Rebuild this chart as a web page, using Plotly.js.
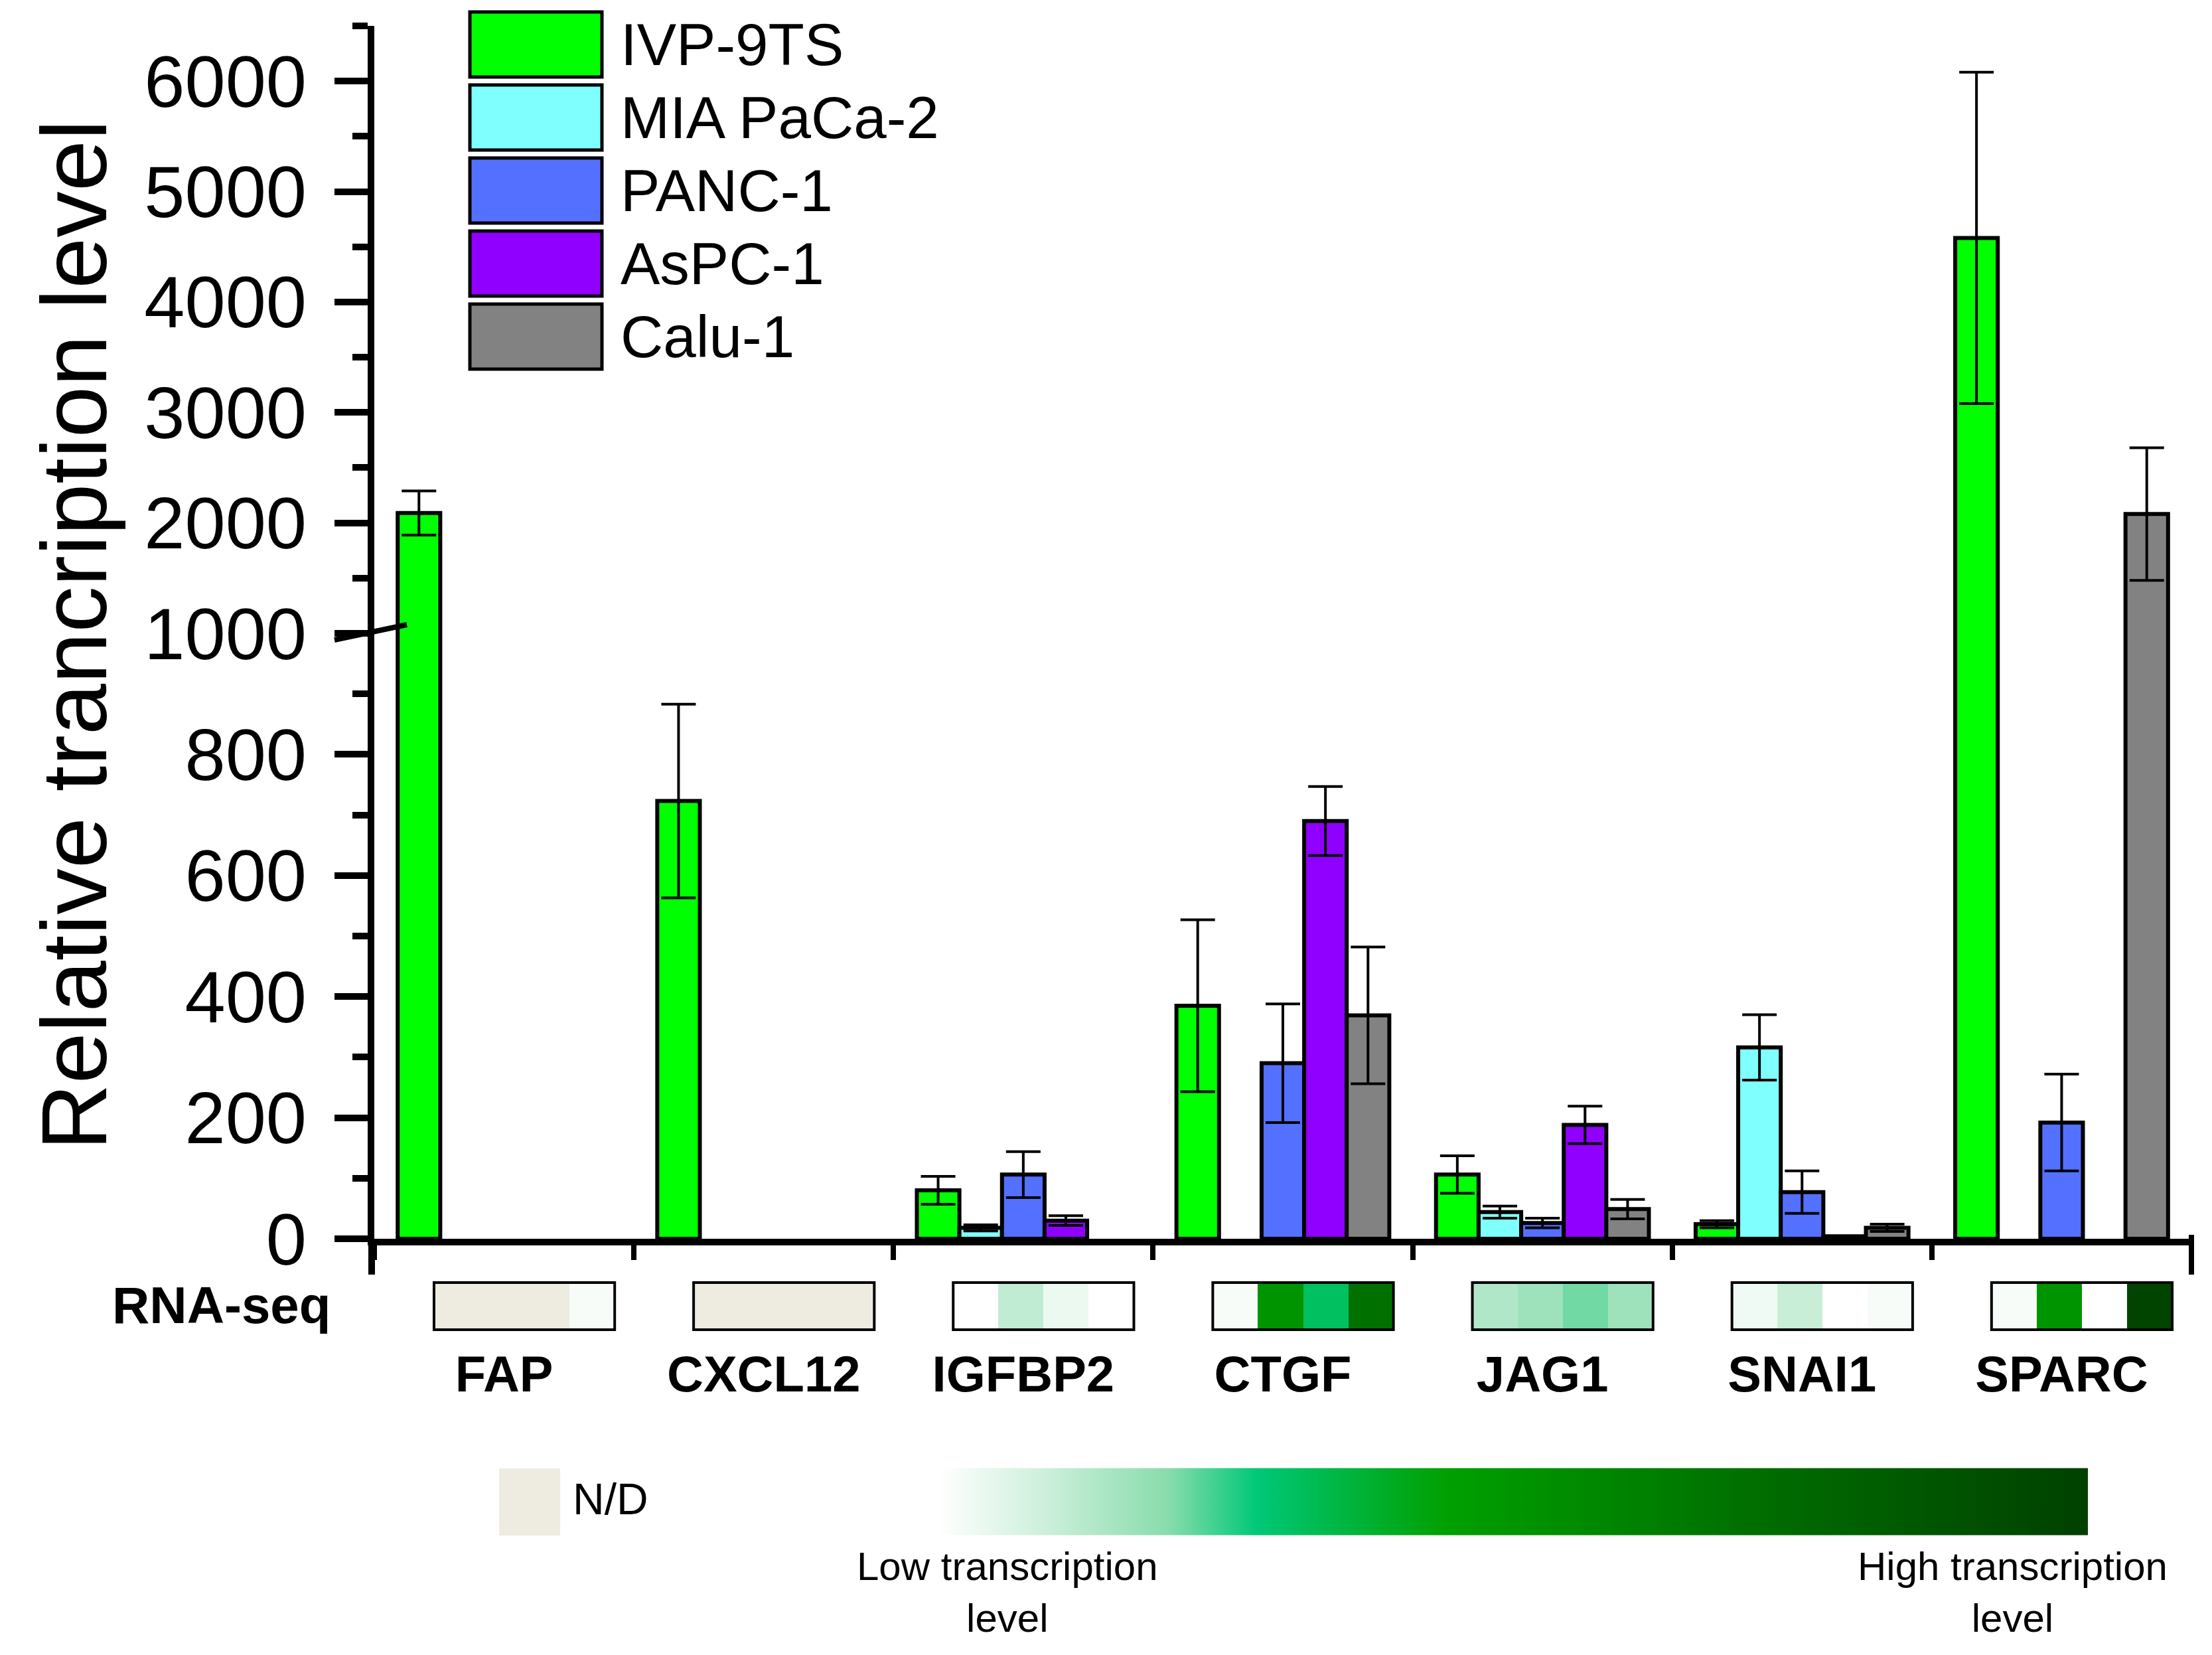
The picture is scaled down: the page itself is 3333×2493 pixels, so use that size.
<!DOCTYPE html>
<html>
<head>
<meta charset="utf-8">
<script src="https://cdn.plot.ly/plotly-3.0.1.min.js"></script>
<style>
  html, body { margin: 0; padding: 0; background: #fff; }
  #chart { width: 3333px; height: 2493px; }
</style>
</head>
<body>
<div id="chart"></div>
<script>
// genes on the x axis
const genes = ['FAP', 'CXCL12', 'IGFBP2', 'CTGF', 'JAG1', 'SNAI1', 'SPARC'];
const cellLines = ['IVP-9TS', 'MIA PaCa-2', 'PANC-1', 'AsPC-1', 'Calu-1'];
const barColors = ['#00ff00', '#80ffff', '#5470ff', '#9000ff', '#828282'];

// relative transcription level (mean) and error; null = no bar drawn
const ivp9ts   = [2090, 723, 80, 385, 106, 24, 4580];
const ivp9tsErr = [200, 160, 23, 142, 31, 6, 1500];
const miaPaca  = [null, null, 18, null, 44, 316, null];
const miaPacaErr = [0, 0, 5, 0, 10, 54, 0];
const panc1    = [null, null, 106, 290, 26, 77, 192];
const panc1Err = [0, 0, 38, 98, 8, 35, 80];
const aspc1    = [null, null, 30, 690, 188, 4, null];
const aspc1Err = [0, 0, 8, 57, 31, 0, 0];
const calu1    = [null, null, null, 369, 49, 18, 2080];
const calu1Err = [0, 0, 0, 113, 16, 6, 600];

// RNA-seq level (0 = low, 1 = high), null = N/D
// cells in each box: MIA PaCa-2, PANC-1, AsPC-1, Calu-1
const rnaMia  = [null, null, 0, 0.015, 0.1375, 0.031, 0.015];
const rnaPanc = [null, null, 0.1125, 0.507, 0.166, 0.1, 0.507];
const rnaAspc = [null, null, 0.036, 0.309, 0.213, 0, 0];
const rnaCalu = [0.015, null, 0, 0.7, 0.166, 0.015, 0.975];

const lowTicks = [0, 200, 400, 600, 800, 1000];
const lowMinor = [100, 300, 500, 700, 900];
const highTicks = [2000, 3000, 4000, 5000, 6000];
const highMinor = [1500, 2500, 3500, 4500, 5500, 6500];

const FONT = 'Liberation Sans, Arial, sans-serif';
const W = 3333, H = 2493;
const ML = 564, MR = 31, MT = 39, MB = 0;
// pixel -> paper helpers
const px = X => (X - ML) / (W - ML - MR);
const py = Y => (H - Y) / (H - MT - MB);

const means = [ivp9ts, miaPaca, panc1, aspc1, calu1];
const errs = [ivp9tsErr, miaPacaErr, panc1Err, aspc1Err, calu1Err];

const traces = [];
['y', 'y2'].forEach(yax => {
  cellLines.forEach((name, i) => {
    traces.push({
      type: 'bar',
      name: name,
      x: genes,
      y: means[i],
      xaxis: 'x',
      yaxis: yax,
      marker: { color: barColors[i], line: { color: 'black', width: 6 } },
      error_y: { type: 'data', array: errs[i], visible: true, color: 'black', thickness: 4, width: 26 },
      showlegend: false,
      hoverinfo: 'skip'
    });
  });
});

// RNA-seq strip: 4 cells per gene, gap columns in between
const cellLeft = -0.27, cellW = 0.174;
const rnaRows = [rnaMia, rnaPanc, rnaAspc, rnaCalu];
const edges = [], zLevel = [], zNd = [];
genes.forEach((g, gi) => {
  for (let c = 0; c < 4; c++) {
    edges.push(gi + cellLeft + c * cellW);
    const v = rnaRows[c][gi];
    zLevel.push(v === null ? null : v);
    zNd.push(v === null ? 1 : null);
  }
  edges.push(gi + cellLeft + 4 * cellW);
  if (gi < genes.length - 1) { zLevel.push(null); zNd.push(null); }
});

const greenScale = [
  [0, '#ffffff'], [0.1, '#c8eed8'], [0.2, '#88dcac'], [0.276, '#00c878'],
  [0.442, '#00a000'], [0.7, '#007000'], [1, '#004000']
];

traces.push({
  type: 'heatmap', x: edges, y: [0], z: [zNd], xaxis: 'x3', yaxis: 'y3',
  colorscale: [[0, '#eeebe0'], [1, '#eeebe0']], zmin: 0, zmax: 1,
  showscale: false, hoverinfo: 'skip'
});
traces.push({
  type: 'heatmap', x: edges, y: [0], z: [zLevel], xaxis: 'x3', yaxis: 'y3',
  colorscale: greenScale, zmin: 0, zmax: 1, hoverinfo: 'skip',
  showscale: true,
  colorbar: {
    orientation: 'h', x: px(2280.5), xanchor: 'center', y: py(2262), yanchor: 'middle',
    len: 1731 / (W - ML - MR), lenmode: 'fraction', thickness: 101, thicknessmode: 'pixels',
    outlinewidth: 0, showticklabels: false, ticks: '', xpad: 0, ypad: 0
  }
});

const shapes = [];
const annotations = [];

// axis break mark
shapes.push({ type: 'line', xref: 'paper', yref: 'paper', x0: px(504), y0: py(964), x1: px(613), y1: py(941),
  line: { color: 'black', width: 8 } });
// axis end extensions
shapes.push({ type: 'line', xref: 'paper', yref: 'paper', x0: px(560), x1: px(560), y0: py(1866), y1: py(1920),
  line: { color: 'black', width: 10 } });
shapes.push({ type: 'line', xref: 'paper', yref: 'paper', x0: px(3302), x1: px(3302), y0: py(1860), y1: py(1920),
  line: { color: 'black', width: 8 } });

// RNA-seq box outlines
genes.forEach((g, gi) => {
  shapes.push({ type: 'rect', xref: 'x3', yref: 'y3', x0: gi + cellLeft, x1: gi + cellLeft + 4 * cellW,
    y0: -0.5, y1: 0.5, line: { color: 'black', width: 4 }, fillcolor: 'rgba(0,0,0,0)' });
});

// legend
cellLines.forEach((name, i) => {
  const top = 18 + i * 110;
  shapes.push({ type: 'rect', xref: 'paper', yref: 'paper', x0: px(708), x1: px(907), y0: py(top + 98), y1: py(top),
    fillcolor: barColors[i], line: { color: 'black', width: 5 } });
  annotations.push({ xref: 'paper', yref: 'paper', x: px(933), y: py(top + 49), xanchor: 'left', yanchor: 'middle',
    text: name, showarrow: false, font: { family: FONT, size: 89, color: 'black' } });
});

// N/D swatch
shapes.push({ type: 'rect', xref: 'paper', yref: 'paper', x0: px(752), x1: px(844), y0: py(2313), y1: py(2212),
  fillcolor: '#eeebe0', line: { width: 0 } });
annotations.push({ xref: 'paper', yref: 'paper', x: px(861), y: py(2258), xanchor: 'left', yanchor: 'middle',
  text: 'N/D', showarrow: false, font: { family: FONT, size: 66, color: 'black' } });
annotations.push({ xref: 'paper', yref: 'paper', x: px(1518), y: py(2398), xanchor: 'center', yanchor: 'middle',
  text: 'Low transcription<br>level', showarrow: false, font: { family: FONT, size: 60, color: 'black' } });
annotations.push({ xref: 'paper', yref: 'paper', x: px(3032), y: py(2398), xanchor: 'center', yanchor: 'middle',
  text: 'High transcription<br>level', showarrow: false, font: { family: FONT, size: 60, color: 'black' } });
annotations.push({ xref: 'paper', yref: 'paper', x: px(500), y: py(1966), xanchor: 'right', yanchor: 'middle',
  text: '<b>RNA-seq</b>', showarrow: false, font: { family: FONT, size: 78, color: 'black' } });
// y title spanning both segments
annotations.push({ xref: 'paper', yref: 'paper', x: px(111), y: py(957), xanchor: 'center', yanchor: 'middle',
  text: 'Relative trancription level', textangle: -90, showarrow: false,
  font: { family: FONT, size: 139, color: 'black' } });

const yCommon = {
  showline: true, linewidth: 10, linecolor: 'black', ticks: 'outside', ticklen: 50, tickwidth: 10,
  tickcolor: 'black', showgrid: false, zeroline: false, anchor: 'x',
  tickfont: { family: FONT, size: 110, color: 'black' }, ticklabelstandoff: 20
};

const layout = {
  width: W, height: H,
  margin: { l: ML, r: MR, t: MT, b: MB },
  paper_bgcolor: 'white', plot_bgcolor: 'rgba(0,0,0,0)',
  font: { family: FONT, color: 'black' },
  showlegend: false,
  barmode: 'group', bargap: 0.18, bargroupgap: 0,
  xaxis: {
    type: 'category', categoryorder: 'array', categoryarray: genes, range: [-0.5, 6.5],
    anchor: 'y', showline: true, linewidth: 10, linecolor: 'black',
    ticks: 'outside', tickson: 'boundaries', ticklen: 22, tickwidth: 8, tickcolor: 'black',
    showticklabels: false, showgrid: false, zeroline: false
  },
  yaxis: Object.assign({}, yCommon, {
    domain: [py(1866), py(954)], range: [0, 1000], tickvals: lowTicks,
    minor: { tickvals: lowMinor, ticks: 'outside', ticklen: 23, tickwidth: 10, tickcolor: 'black', showgrid: false }
  }),
  yaxis2: Object.assign({}, yCommon, {
    domain: [py(954), 1], range: [1000, 6500], tickvals: highTicks,
    minor: { tickvals: highMinor, ticks: 'outside', ticklen: 23, tickwidth: 10, tickcolor: 'black', showgrid: false }
  }),
  xaxis3: {
    domain: [0, 1], anchor: 'y3', range: [-0.5, 6.5], showline: false, showgrid: false, zeroline: false,
    ticks: '', tickvals: genes.map((g, i) => i), ticktext: genes, ticklabelstandoff: 12,
    tickfont: { family: FONT, size: 76, color: 'black', weight: 'bold' }
  },
  yaxis3: {
    domain: [py(2007.3), py(1927.7)], anchor: 'x3', range: [-0.56, 0.56],
    showline: false, showgrid: false, zeroline: false, showticklabels: false, ticks: ''
  },
  shapes: shapes,
  annotations: annotations
};

Plotly.newPlot('chart', traces, layout, { staticPlot: true, displayModeBar: false });
</script>
</body>
</html>
